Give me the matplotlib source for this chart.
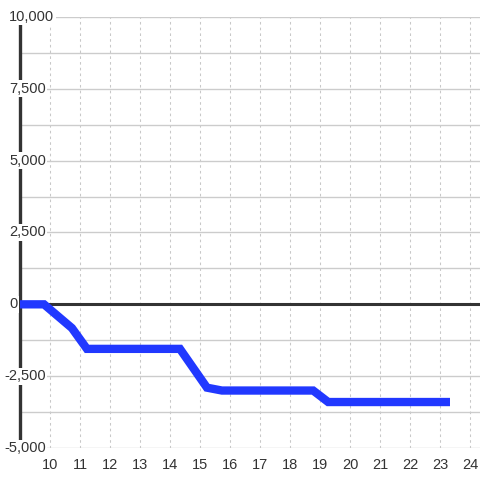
import matplotlib.pyplot as plt
import numpy as np

x = [9.0, 9.8, 10.73, 11.23, 14.33, 15.23, 15.73, 18.77, 19.27, 23.33]
y = [0, 0, -825, -1550, -1550, -2900, -3000, -3000, -3400, -3400]

x_ticks = list(range(10, 25))
y_labels = [10000, 7500, 5000, 2500, 0, -2500, -5000]

plt.rcParams['font.family'] = ['Liberation Sans', 'DejaVu Sans']

fig = plt.figure(figsize=(4.8, 4.8), dpi=100)
ax = fig.add_axes([20/480, 32/480, 460/480, 431/480])

ax.set_xlim(9, 24.33)
ax.set_ylim(-5000, 10000)
for s in ax.spines.values():
    s.set_visible(False)

ax.set_yticks(np.arange(-5000, 10001, 1250))
ax.set_yticklabels([])
ax.set_xticks(x_ticks)
ax.set_xticklabels([str(t) for t in x_ticks], fontsize=10.5, color='#333333')
ax.tick_params(length=0)
ax.tick_params(axis='x', pad=7)

ax.grid(axis='y', color='#cccccc', lw=1, zorder=0)
ax.grid(axis='x', color='#c8c8c8', lw=0.75, ls=(0, (2.5, 3)), zorder=0)

ax.axhline(0, color='#333333', lw=2.2, zorder=2)
ax.axvline(9, color='#333333', lw=2.4, zorder=2, clip_on=False)

ax.plot(x, y, color='#2138ff', lw=6, solid_joinstyle='miter', solid_capstyle='butt', zorder=3)

for v in y_labels:
    ax.text(-16/460 if v < 0 else -11/460, v, f'{v:,}', transform=ax.get_yaxis_transform(),
            ha='left', va='center', fontsize=10.5, color='#333333', zorder=5,
            bbox=dict(facecolor='white', edgecolor='none', pad=1), clip_on=False)

fig.savefig('out.png', dpi=100)
